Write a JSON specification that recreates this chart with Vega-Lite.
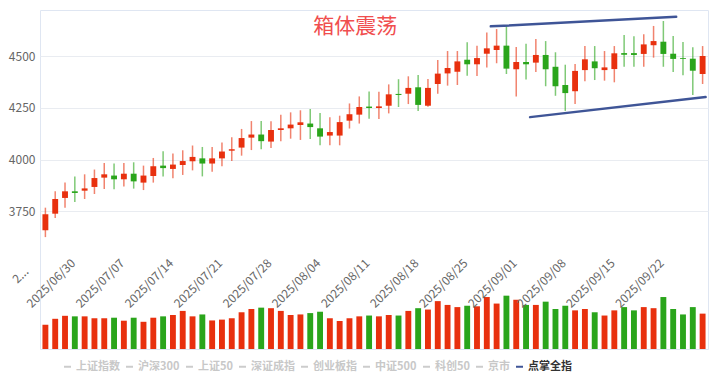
{
"$schema": "https://vega.github.io/schema/vega-lite/v6.json",
"width": 668, "height": 339, "autosize": "none",
"padding": {"left": 40, "top": 10, "right": 7, "bottom": 30},
"config": {"font": "Noto Sans CJK SC", "view": {"stroke": "#dfe6f2"},
  "axisY": {"grid": true, "gridColor": "#e9ecf1", "ticks": false, "domain": false, "labelFontSize": 12, "labelColor": "#666666", "title": null}},
"data": {"values": [
{"d":"2025/06/27","o":3659,"h":3768,"l":3626,"c":3736,"v":0.89},
{"d":"2025/06/30","o":3739,"h":3847,"l":3718,"c":3810,"v":1.11},
{"d":"2025/07/01","o":3815,"h":3890,"l":3768,"c":3847,"v":1.22},
{"d":"2025/07/02","o":3847,"h":3919,"l":3795,"c":3839,"v":1.20},
{"d":"2025/07/03","o":3850,"h":3929,"l":3810,"c":3861,"v":1.20},
{"d":"2025/07/04","o":3868,"h":3952,"l":3834,"c":3911,"v":1.13},
{"d":"2025/07/07","o":3913,"h":3984,"l":3858,"c":3929,"v":1.13},
{"d":"2025/07/08","o":3923,"h":3981,"l":3857,"c":3905,"v":1.15},
{"d":"2025/07/09","o":3905,"h":3984,"l":3870,"c":3932,"v":1.04},
{"d":"2025/07/10","o":3932,"h":3987,"l":3860,"c":3895,"v":1.15},
{"d":"2025/07/11","o":3889,"h":3971,"l":3853,"c":3923,"v":1.00},
{"d":"2025/07/14","o":3921,"h":4008,"l":3889,"c":3968,"v":1.15},
{"d":"2025/07/15","o":3971,"h":4040,"l":3919,"c":3959,"v":1.20},
{"d":"2025/07/16","o":3955,"h":4029,"l":3910,"c":3976,"v":1.25},
{"d":"2025/07/17","o":3974,"h":4045,"l":3926,"c":3993,"v":1.40},
{"d":"2025/07/18","o":3992,"h":4068,"l":3948,"c":4013,"v":1.20},
{"d":"2025/07/21","o":4006,"h":4061,"l":3919,"c":3981,"v":1.27},
{"d":"2025/07/22","o":3981,"h":4061,"l":3942,"c":4006,"v":1.05},
{"d":"2025/07/23","o":4006,"h":4083,"l":3968,"c":4039,"v":1.08},
{"d":"2025/07/24","o":4043,"h":4108,"l":3993,"c":4050,"v":1.13},
{"d":"2025/07/25","o":4058,"h":4148,"l":4019,"c":4104,"v":1.35},
{"d":"2025/07/28","o":4106,"h":4186,"l":4046,"c":4121,"v":1.47},
{"d":"2025/07/29","o":4121,"h":4186,"l":4050,"c":4089,"v":1.52},
{"d":"2025/07/30","o":4087,"h":4185,"l":4056,"c":4143,"v":1.50},
{"d":"2025/07/31","o":4143,"h":4217,"l":4088,"c":4151,"v":1.40},
{"d":"2025/08/01","o":4151,"h":4228,"l":4101,"c":4169,"v":1.25},
{"d":"2025/08/04","o":4167,"h":4238,"l":4095,"c":4180,"v":1.27},
{"d":"2025/08/05","o":4174,"h":4244,"l":4099,"c":4157,"v":1.32},
{"d":"2025/08/06","o":4151,"h":4225,"l":4069,"c":4111,"v":1.37},
{"d":"2025/08/07","o":4116,"h":4204,"l":4069,"c":4133,"v":1.13},
{"d":"2025/08/08","o":4116,"h":4212,"l":4069,"c":4181,"v":1.03},
{"d":"2025/08/11","o":4188,"h":4271,"l":4150,"c":4219,"v":1.13},
{"d":"2025/08/12","o":4217,"h":4305,"l":4174,"c":4254,"v":1.20},
{"d":"2025/08/13","o":4256,"h":4329,"l":4197,"c":4249,"v":1.23},
{"d":"2025/08/14","o":4249,"h":4328,"l":4196,"c":4257,"v":1.20},
{"d":"2025/08/15","o":4260,"h":4363,"l":4223,"c":4315,"v":1.25},
{"d":"2025/08/18","o":4317,"h":4388,"l":4254,"c":4312,"v":1.23},
{"d":"2025/08/19","o":4318,"h":4402,"l":4268,"c":4346,"v":1.40},
{"d":"2025/08/20","o":4349,"h":4408,"l":4235,"c":4264,"v":1.50},
{"d":"2025/08/21","o":4260,"h":4389,"l":4255,"c":4346,"v":1.45},
{"d":"2025/08/22","o":4365,"h":4481,"l":4318,"c":4415,"v":1.76},
{"d":"2025/08/25","o":4416,"h":4524,"l":4357,"c":4442,"v":1.62},
{"d":"2025/08/26","o":4424,"h":4524,"l":4360,"c":4474,"v":1.54},
{"d":"2025/08/27","o":4482,"h":4566,"l":4405,"c":4460,"v":1.59},
{"d":"2025/08/28","o":4460,"h":4550,"l":4403,"c":4490,"v":1.57},
{"d":"2025/08/29","o":4511,"h":4614,"l":4445,"c":4537,"v":1.91},
{"d":"2025/09/01","o":4529,"h":4630,"l":4465,"c":4550,"v":1.67},
{"d":"2025/09/02","o":4550,"h":4645,"l":4413,"c":4439,"v":1.96},
{"d":"2025/09/03","o":4436,"h":4543,"l":4304,"c":4471,"v":1.81},
{"d":"2025/09/04","o":4471,"h":4559,"l":4386,"c":4460,"v":1.62},
{"d":"2025/09/05","o":4468,"h":4582,"l":4423,"c":4505,"v":1.62},
{"d":"2025/09/08","o":4505,"h":4572,"l":4354,"c":4436,"v":1.74},
{"d":"2025/09/09","o":4448,"h":4518,"l":4308,"c":4354,"v":1.47},
{"d":"2025/09/10","o":4360,"h":4458,"l":4235,"c":4321,"v":1.59},
{"d":"2025/09/11","o":4330,"h":4461,"l":4268,"c":4428,"v":1.42},
{"d":"2025/09/12","o":4432,"h":4548,"l":4378,"c":4484,"v":1.47},
{"d":"2025/09/15","o":4474,"h":4548,"l":4384,"c":4441,"v":1.35},
{"d":"2025/09/16","o":4432,"h":4524,"l":4381,"c":4445,"v":1.23},
{"d":"2025/09/17","o":4437,"h":4548,"l":4373,"c":4513,"v":1.42},
{"d":"2025/09/18","o":4514,"h":4601,"l":4448,"c":4506,"v":1.54},
{"d":"2025/09/19","o":4514,"h":4595,"l":4448,"c":4505,"v":1.42},
{"d":"2025/09/22","o":4510,"h":4605,"l":4448,"c":4556,"v":1.54},
{"d":"2025/09/23","o":4552,"h":4645,"l":4492,"c":4572,"v":1.50},
{"d":"2025/09/24","o":4569,"h":4669,"l":4448,"c":4510,"v":1.91},
{"d":"2025/09/25","o":4511,"h":4597,"l":4423,"c":4486,"v":1.47},
{"d":"2025/09/26","o":4490,"h":4568,"l":4407,"c":4486,"v":1.27},
{"d":"2025/09/29","o":4487,"h":4542,"l":4312,"c":4429,"v":1.54},
{"d":"2025/09/30","o":4413,"h":4548,"l":4365,"c":4500,"v":1.30}
]},
"encoding": {
  "x": {"field": "d", "type": "ordinal",
    "scale": {"paddingInner": 0.4, "paddingOuter": 0.25},
    "axis": {"values": ["2025/06/30","2025/07/07","2025/07/14","2025/07/21","2025/07/28","2025/08/04","2025/08/11","2025/08/18","2025/08/25","2025/09/01","2025/09/08","2025/09/15","2025/09/22"],
      "orient": "bottom", "offset": -66, "labelAngle": -45, "labelAlign": "center", "labelBaseline": "middle",
      "labelPadding": 0, "labelOffset": -4, "ticks": false, "domain": false, "grid": false,
      "labelFontSize": 12, "labelColor": "#666666", "labelOverlap": false, "title": null, "zindex": 1}}
},
"layer": [
  {"layer": [
    {"mark": {"type": "rule", "strokeWidth": 1.5, "opacity": 0.6},
     "encoding": {
       "y": {"field": "l", "type": "quantitative", "scale": {"domain": [3086, 4722], "nice": false, "zero": false},
         "axis": {"orient": "left", "values": [3750, 4000, 4250, 4500], "format": "d", "labelPadding": 5}},
       "y2": {"field": "h"},
       "color": {"condition": {"test": "datum.c >= datum.o", "value": "#e8300e"}, "value": "#2aa51b"}
     }},
    {"mark": {"type": "bar"},
     "encoding": {
       "y": {"field": "o", "type": "quantitative", "scale": {"domain": [3086, 4722], "nice": false, "zero": false},
         "axis": {"orient": "left", "values": [3750, 4000, 4250, 4500], "format": "d", "labelPadding": 5}},
       "y2": {"field": "c"},
       "color": {"condition": {"test": "datum.c >= datum.o", "value": "#e8300e"}, "value": "#2aa51b"}
     }},
    {"data": {"values": [
       {"d": "2025/08/29", "d2": "2025/09/25", "p": 4643, "p2": 4689, "s": "点掌全指"},
       {"d": "2025/09/04", "d2": "2025/09/30", "p": 4205, "p2": 4302, "s": "点掌全指"}
     ]},
     "mark": {"type": "rule", "strokeWidth": 2.5, "strokeCap": "round", "xOffset": 4, "x2Offset": 3},
     "encoding": {
       "x2": {"field": "d2"},
       "y": {"field": "p", "type": "quantitative", "scale": {"domain": [3086, 4722], "nice": false, "zero": false},
         "axis": {"orient": "left", "values": [3750, 4000, 4250, 4500], "format": "d", "labelPadding": 5}},
       "y2": {"field": "p2"},
       "color": {"field": "s", "type": "nominal",
         "scale": {"domain": ["上证指数","沪深300","上证50","深证成指","创业板指","中证500","科创50","京市","点掌全指"],
                   "range": ["#cccccc","#cccccc","#cccccc","#cccccc","#cccccc","#cccccc","#cccccc","#cccccc","#3f5597"]},
         "legend": {"orient": "none", "legendX": 22, "legendY": 351, "direction": "horizontal", "columns": 9,
           "symbolType": "stroke", "symbolSize": 49, "symbolStrokeWidth": 2, "labelFontSize": 11, "labelFontWeight": "bold",
           "labelOffset": 3, "columnPadding": 2, "title": null,
           "encode": {
             "labels": {"update": {"fill": {"signal": "datum.value === '点掌全指' ? '#333333' : '#c8c8c8'"}}},
             "symbols": {"update": {"stroke": {"signal": "datum.value === '点掌全指' ? '#5470c6' : '#cccccc'"}}}
           }}}
     }},
    {"data": {"values": [{"d": "2025/08/12", "p": 4640, "t": "箱体震荡"}]},
     "mark": {"type": "text", "fontSize": 21, "color": "#f04e4e", "dx": -4},
     "encoding": {
       "y": {"field": "p", "type": "quantitative", "scale": {"domain": [3086, 4722], "nice": false, "zero": false},
         "axis": {"orient": "left", "values": [3750, 4000, 4250, 4500], "format": "d", "labelPadding": 5}},
       "text": {"field": "t"}
     }}
  ]},
  {"mark": {"type": "bar"},
   "encoding": {
     "y": {"field": "v", "type": "quantitative", "scale": {"domain": [0, 12.46], "nice": false},
       "axis": {"orient": "left", "values": [0.5, 1, 1.5, 2, 2.5],
         "labelExpr": "datum.value == 2.5 ? '2...' : ''", "labelAngle": -45, "labelAlign": "right", "labelBaseline": "middle",
         "labelPadding": 14, "labelOffset": -12}},
     "color": {"condition": {"test": "datum.c >= datum.o", "value": "#e8300e"}, "value": "#2aa51b"}
   }}
],
"resolve": {"scale": {"y": "independent"}}
}
